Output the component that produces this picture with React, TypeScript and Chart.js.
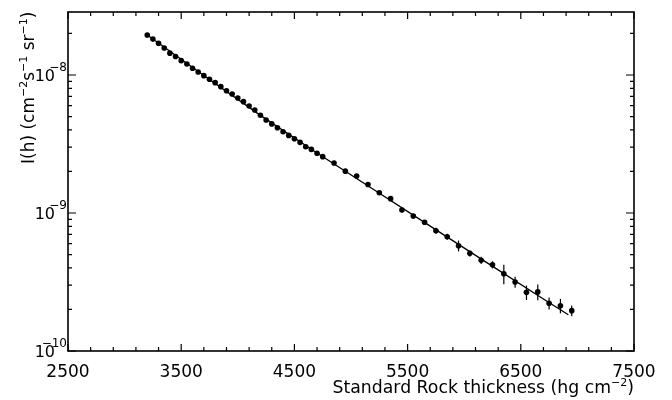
import React, { useEffect, useRef } from "react";
import { Chart, registerables } from "chart.js";
Chart.register(...registerables);

// Standard rock thickness (hg cm^-2)
const thickness = [
  3200, 3250, 3300, 3350, 3400, 3450, 3500, 3550, 3600, 3650,
  3700, 3750, 3800, 3850, 3900, 3950, 4000, 4050, 4100, 4150,
  4200, 4250, 4300, 4350, 4400, 4450, 4500, 4550, 4600, 4650,
  4700, 4750,
  4850, 4950, 5050, 5150, 5250, 5350, 5450, 5550, 5650, 5750,
  5850, 5950, 6050, 6150, 6250, 6350, 6450, 6550, 6650, 6750,
  6850, 6950,
];
// Vertical intensity I(h) (cm^-2 s^-1 sr^-1)
const intensity = [
  1.95e-8, 1.82e-8, 1.7e-8, 1.57e-8, 1.44e-8, 1.36e-8, 1.27e-8, 1.2e-8, 1.12e-8, 1.05e-8,
  9.89e-9, 9.31e-9, 8.8e-9, 8.23e-9, 7.69e-9, 7.28e-9, 6.81e-9, 6.41e-9, 5.96e-9, 5.57e-9,
  5.11e-9, 4.72e-9, 4.42e-9, 4.15e-9, 3.88e-9, 3.65e-9, 3.45e-9, 3.25e-9, 3.02e-9, 2.89e-9,
  2.71e-9, 2.56e-9,
  2.3e-9, 2.01e-9, 1.85e-9, 1.61e-9, 1.4e-9, 1.27e-9, 1.05e-9, 9.51e-10, 8.56e-10, 7.44e-10,
  6.73e-10, 5.79e-10, 5.1e-10, 4.54e-10, 4.22e-10, 3.63e-10, 3.16e-10, 2.66e-10, 2.68e-10, 2.22e-10,
  2.13e-10, 1.96e-10,
];
// Relative errors
const relError = [
  0.01, 0.01, 0.01, 0.01, 0.01, 0.01, 0.01, 0.01, 0.01, 0.01,
  0.01, 0.01, 0.01, 0.01, 0.01, 0.01, 0.01, 0.01, 0.01, 0.01,
  0.015, 0.015, 0.015, 0.015, 0.015, 0.015, 0.015, 0.015, 0.015, 0.015,
  0.02, 0.02,
  0.02, 0.02, 0.03, 0.03, 0.03, 0.04, 0.04, 0.04, 0.04, 0.05,
  0.05, 0.09, 0.05, 0.06, 0.06, 0.16, 0.09, 0.12, 0.13, 0.1,
  0.12, 0.09,
];
// Fitted curve
const fitThickness = [3200, 3700, 4200, 4700, 5200, 5700, 6200, 6700, 6920];
const fitIntensity = [1.95e-8, 9.9e-9, 5.1e-9, 2.72e-9, 1.48e-9, 8.03e-10, 4.37e-10, 2.38e-10, 1.83e-10];

const xTickLabels = [2500, 3500, 4500, 5500, 6500, 7500];
const yDecades = [-10, -9, -8];
const xMin = 2500;
const xMax = 7500;
const yMin = 1e-10;
const yMax = 2.86e-8;

const FONT = '"DejaVu Sans", sans-serif';

type Seg = { t: string; sup?: boolean };
const xTitle: Seg[] = [
  { t: "Standard Rock thickness (hg cm" },
  { t: "\u22122", sup: true },
  { t: ")" },
];
const yTitle: Seg[] = [
  { t: "I(h) (cm" },
  { t: "\u22122", sup: true },
  { t: "s" },
  { t: "\u22121", sup: true },
  { t: " sr" },
  { t: "\u22121", sup: true },
  { t: ")" },
];

function drawRich(ctx: CanvasRenderingContext2D, segs: Seg[], x: number, y: number, size: number, supSize: number, align: "left" | "right") {
  let total = 0;
  const widths = segs.map((s) => {
    ctx.font = `${s.sup ? supSize : size}px ${FONT}`;
    const w = ctx.measureText(s.t).width;
    total += w;
    return w;
  });
  let cx = align === "right" ? x - total : x;
  ctx.textAlign = "left";
  ctx.textBaseline = "alphabetic";
  segs.forEach((s, i) => {
    ctx.font = `${s.sup ? supSize : size}px ${FONT}`;
    ctx.fillText(s.t, cx, s.sup ? y - size * 0.42 : y);
    cx += widths[i];
  });
}

const framePlugin = {
  id: "frame",
  afterDatasetsDraw(chart: any) {
    const ctx: CanvasRenderingContext2D = chart.ctx;
    const xs = chart.scales.x;
    const ys = chart.scales.y;
    ctx.save();
    ctx.strokeStyle = "#000";
    ctx.lineWidth = 1.2;
    thickness.forEach((t, i) => {
      const v = intensity[i];
      const e = relError[i];
      const px = xs.getPixelForValue(t);
      ctx.beginPath();
      ctx.moveTo(px, ys.getPixelForValue(v * (1 + e)));
      ctx.lineTo(px, ys.getPixelForValue(v * (1 - e)));
      ctx.stroke();
    });
    ctx.restore();
  },
  afterDraw(chart: any) {
    const ctx: CanvasRenderingContext2D = chart.ctx;
    const a = chart.chartArea;
    const xs = chart.scales.x;
    const ys = chart.scales.y;
    ctx.save();
    ctx.strokeStyle = "#000";
    ctx.fillStyle = "#000";
    ctx.lineWidth = 1.6;
    ctx.strokeRect(a.left, a.top, a.right - a.left, a.bottom - a.top);

    ctx.lineWidth = 1.2;
    // x ticks every 200
    for (let v = xMin; v <= xMax; v += 200) {
      const px = xs.getPixelForValue(v);
      const major = (v - 2500) % 1000 === 0;
      const len = major ? 7 : 4;
      ctx.beginPath();
      ctx.moveTo(px, a.bottom);
      ctx.lineTo(px, a.bottom - len);
      ctx.moveTo(px, a.top);
      ctx.lineTo(px, a.top + len);
      ctx.stroke();
    }
    // y ticks
    yDecades.forEach((d) => {
      for (let m = 1; m <= 9; m++) {
        const v = m * Math.pow(10, d);
        if (v < yMin * 0.999 || v > yMax) continue;
        const py = ys.getPixelForValue(v);
        const len = m === 1 ? 8 : 4;
        ctx.beginPath();
        ctx.moveTo(a.left, py);
        ctx.lineTo(a.left + len, py);
        ctx.moveTo(a.right, py);
        ctx.lineTo(a.right - len, py);
        ctx.stroke();
      }
    });

    // x tick labels
    ctx.font = `17px ${FONT}`;
    ctx.textAlign = "center";
    ctx.textBaseline = "middle";
    xTickLabels.forEach((v) => {
      ctx.fillText(String(v), xs.getPixelForValue(v), 373);
    });

    // y tick labels: 10^d
    yDecades.forEach((d) => {
      const py = ys.getPixelForValue(Math.pow(10, d));
      ctx.font = `16px ${FONT}`;
      ctx.textAlign = "right";
      ctx.textBaseline = "middle";
      ctx.fillText("10", 55, py + 2);
      ctx.font = `12px ${FONT}`;
      ctx.textBaseline = "alphabetic";
      ctx.fillText("\u2212" + String(Math.abs(d)), 67, py - 4);
    });

    // axis titles
    drawRich(ctx, xTitle, a.right, 393, 17.3, 11, "right");
    ctx.translate(34, 164);
    ctx.rotate(-Math.PI / 2);
    drawRich(ctx, yTitle, 0, 0, 17, 11, "left");
    ctx.restore();
  },
};

export default function App() {
  const ref = useRef<HTMLCanvasElement | null>(null);
  useEffect(() => {
    document.body.style.margin = "0";
    if (!ref.current) return;
    const chart = new Chart(ref.current, {
      type: "scatter",
      data: {
        datasets: [
          {
            data: fitThickness.map((x, i) => ({ x, y: fitIntensity[i] })),
            showLine: true,
            pointRadius: 0,
            borderColor: "#000",
            borderWidth: 1.3,
            backgroundColor: "#000",
          },
          {
            data: thickness.map((x, i) => ({ x, y: intensity[i] })),
            showLine: false,
            pointRadius: 2.8,
            pointBorderWidth: 0,
            backgroundColor: "#000",
            borderColor: "#000",
          },
        ],
      },
      options: {
        animation: false,
        responsive: false,
        devicePixelRatio: 1,
        layout: { padding: { top: 12, right: 38, left: 0, bottom: 0 } },
        plugins: { legend: { display: false }, tooltip: { enabled: false } },
        scales: {
          x: {
            type: "linear",
            min: xMin,
            max: xMax,
            grid: { display: false },
            border: { display: false },
            ticks: { display: false },
            afterFit: (s: any) => {
              s.height = 49;
            },
          },
          y: {
            type: "logarithmic",
            min: yMin,
            max: yMax,
            grid: { display: false },
            border: { display: false },
            ticks: { display: false },
            afterFit: (s: any) => {
              s.width = 68;
            },
          },
        },
      },
      plugins: [framePlugin],
    } as any);
    return () => chart.destroy();
  }, []);
  return (
    <div style={{ width: 672, height: 400, background: "#fff" }}>
      <canvas ref={ref} width={672} height={400} style={{ display: "block" }} />
    </div>
  );
}
